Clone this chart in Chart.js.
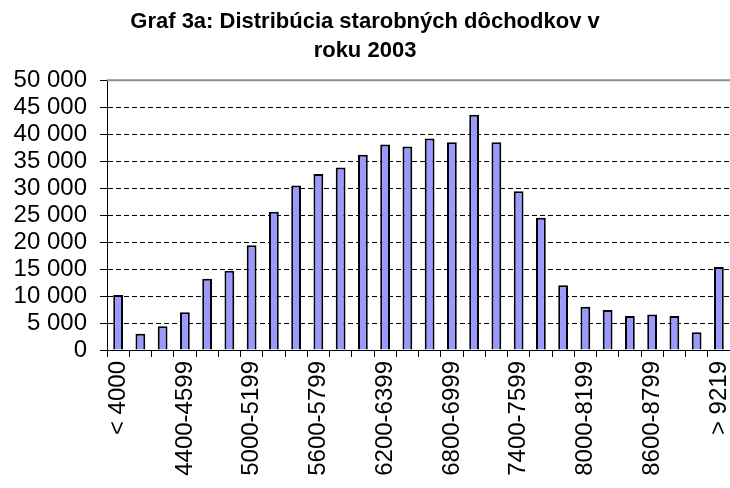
<!DOCTYPE html>
<html>
<head>
<meta charset="utf-8">
<script src="https://cdn.jsdelivr.net/npm/chart.js@4"></script>
<style>
  html, body { margin: 0; padding: 0; background: #fff; }
  #wrap { width: 730px; height: 488px; position: relative; }
</style>
</head>
<body>
<div id="wrap"><canvas id="chart"></canvas></div>
<script>
// Data
const categories = [
    '< 4000', '4000-4199', '4200-4399', '4400-4599', '4600-4799', '4800-4999',
    '5000-5199', '5200-5399', '5400-5599', '5600-5799', '5800-5999', '6000-6199',
    '6200-6399', '6400-6599', '6600-6799', '6800-6999', '7000-7199', '7200-7399',
    '7400-7599', '7600-7799', '7800-7999', '8000-8199', '8200-8399', '8400-8599',
    '8600-8799', '8800-8999', '9000-9219', '> 9219'
];
const pensions = [
    10200, 3000, 4400, 7000, 13200, 14700, 19400, 25600, 30500, 32600,
    33800, 36200, 38100, 37700, 39200, 38500, 43600, 38500, 29400, 24500,
    12000, 8000, 7400, 6300, 6600, 6300, 3300, 15400
];
const yTicks = [0, 5000, 10000, 15000, 20000, 25000, 30000, 35000, 40000, 45000, 50000];

const FONT = "'Liberation Sans', Arial, sans-serif";

// format 50000 -> "50 000"
function fmt(v) {
    return String(v).replace(/\B(?=(\d{3})+(?!\d))/g, ' ');
}

// Top border of the plot and inner half of the y tick marks
const frame = {
    id: 'frame',
    afterDraw(chart) {
        const { ctx, chartArea } = chart;
        const y = chart.scales.y;
        ctx.save();
        ctx.strokeStyle = '#000';
        ctx.lineWidth = 1;
        yTicks.forEach(v => {
            const py = Math.round(y.getPixelForValue(v)) + 0.5;
            ctx.beginPath();
            ctx.moveTo(chartArea.left, py);
            ctx.lineTo(chartArea.left + 6, py);
            ctx.stroke();
        });
        ctx.strokeStyle = '#8c8c8c';
        ctx.lineWidth = 2;
        ctx.beginPath();
        ctx.moveTo(chartArea.left, chartArea.top);
        ctx.lineTo(chartArea.right, chartArea.top);
        ctx.stroke();
        ctx.restore();
    }
};

new Chart(document.getElementById('chart'), {
    type: 'bar',
    data: {
        labels: categories,
        datasets: [{
            data: pensions,
            backgroundColor: '#9999FF',
            borderColor: '#000',
            borderWidth: 2,
            barPercentage: 0.8,
            categoryPercentage: 0.55
        }]
    },
    options: {
        responsive: true,
        maintainAspectRatio: false,
        animation: false,
        layout: { padding: 0 },
        plugins: {
            legend: { display: false },
            tooltip: { enabled: false },
            title: {
                display: true,
                text: ['Graf 3a: Distribúcia starobných dôchodkov v', 'roku 2003'],
                color: '#000',
                font: { family: FONT, size: 22, weight: 'bold', lineHeight: 1.3 },
                padding: { top: 8, bottom: 15 }
            }
        },
        scales: {
            x: {
                grid: {
                    offset: true,
                    drawOnChartArea: false,
                    tickLength: 7,
                    tickColor: '#000'
                },
                border: { color: '#000', width: 1 },
                ticks: {
                    autoSkip: false,
                    minRotation: 90,
                    maxRotation: 90,
                    padding: 4,
                    color: '#000',
                    font: { family: FONT, size: 24 },
                    callback: function (value, index) {
                        return index % 3 === 0 ? this.getLabelForValue(value) : '';
                    }
                },
                afterFit: scale => {
                    scale.height = 138;
                    scale.paddingLeft = 0;
                    scale.paddingRight = 0;
                }
            },
            y: {
                min: 0,
                max: 50000,
                grid: {
                    color: ctx => ctx.tick && ctx.tick.value === 50000 ? 'rgba(0,0,0,0)' : '#000',
                    tickLength: 7,
                    tickColor: '#000'
                },
                border: { color: '#000', width: 1, dash: [5, 3] },
                ticks: {
                    stepSize: 5000,
                    autoSkip: false,
                    padding: 13,
                    color: '#000',
                    font: { family: FONT, size: 24 },
                    callback: v => fmt(v)
                },
                afterFit: scale => {
                    scale.width = 107;
                    scale.paddingTop = 0;
                    scale.paddingBottom = 0;
                }
            }
        }
    },
    plugins: [frame]
});
</script>
</body>
</html>
